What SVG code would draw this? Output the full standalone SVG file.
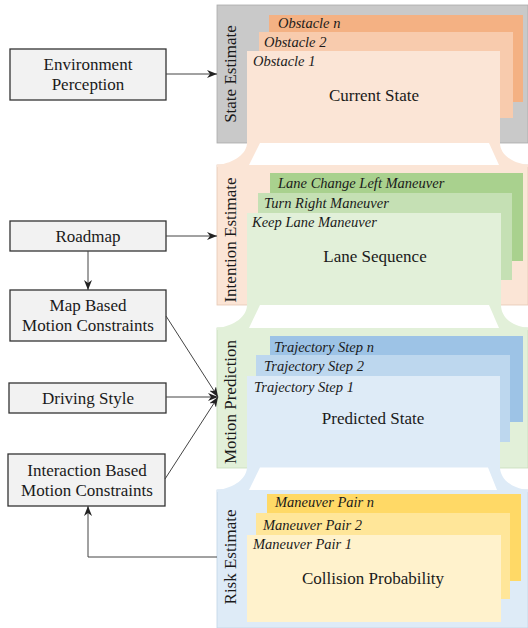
<svg xmlns="http://www.w3.org/2000/svg" width="528" height="628" viewBox="0 0 528 628" font-family="'Liberation Serif', 'Times New Roman', 'DejaVu Serif', serif">
<style>
text{fill:#1a1a1a}
.lbl{font-size:17px;text-anchor:middle}
.it{font-size:14.5px;font-style:italic}
.box{fill:#f2f2f2;stroke:#333;stroke-width:1.3}
.wire{fill:none;stroke:#444;stroke-width:1}
.gap{fill:#fff}
</style>
<defs>
<marker id="ah" viewBox="0 0 10 8" refX="10" refY="4" markerWidth="10" markerHeight="8" markerUnits="userSpaceOnUse" orient="auto">
<path d="M0,0 L10,4 L0,8 L3,4 Z" fill="#222"/>
</marker>
</defs>

<g id="state-estimate">
<rect x="217" y="5" width="311" height="138" fill="#c9c9c9" stroke="#aaa" stroke-width="0.8"/>
<rect x="269" y="15" width="254" height="87" fill="#f4b183"/>
<rect x="259" y="32" width="254" height="86" fill="#f8cbad"/>
<rect x="247" y="51" width="253" height="87" fill="#fbe5d6"/>
<text class="it" x="278" y="28">Obstacle n</text>
<text class="it" x="264" y="47">Obstacle 2</text>
<text class="it" x="253" y="66">Obstacle 1</text>
<text class="lbl" x="374" y="101">Current State</text>
<text class="lbl" transform="translate(236,74) rotate(-90)">State Estimate</text>
</g>

<g id="intention-estimate">
<rect x="217" y="165" width="311" height="140" fill="#fbe5d6" stroke="#e6c8b4" stroke-width="0.8"/>
<path d="M247,137 L247,143 C247,153 235,163 217,165 L217,167 L528,167 L528,165 C510,163 500,153 500,143 L500,137 Z" fill="#fbe5d6"/>
<path class="gap" d="M260,143 L489,143 L499,165 L249,165 Z"/>
<rect x="270" y="173" width="253" height="88" fill="#a9d18e"/>
<rect x="258" y="193" width="254" height="87" fill="#c5e0b4"/>
<rect x="247" y="213" width="254" height="87" fill="#e2f0d9"/>
<text class="it" x="278" y="188">Lane Change Left Maneuver</text>
<text class="it" x="264" y="208">Turn Right Maneuver</text>
<text class="it" x="252" y="227">Keep Lane Maneuver</text>
<text class="lbl" x="375" y="262">Lane Sequence</text>
<text class="lbl" transform="translate(236,240) rotate(-90)">Intention Estimate</text>
</g>

<g id="motion-prediction">
<rect x="217" y="328" width="311" height="140" fill="#e2f0d9" stroke="#c7dcbb" stroke-width="0.8"/>
<path d="M247,299 L247,305 C247,316 235,326 217,328 L217,330 L528,330 L528,328 C510,326 501,316 501,305 L501,299 Z" fill="#e2f0d9"/>
<path class="gap" d="M260,305 L489,305 L499,328 L249,328 Z"/>
<rect x="270" y="336" width="253" height="86" fill="#9dc3e6"/>
<rect x="256" y="355" width="254" height="87" fill="#bdd7ee"/>
<rect x="247" y="376" width="253" height="89" fill="#deebf7"/>
<text class="it" x="274" y="352">Trajectory Step n</text>
<text class="it" x="264" y="371">Trajectory Step 2</text>
<text class="it" x="254" y="392">Trajectory Step 1</text>
<text class="lbl" x="373" y="424">Predicted State</text>
<text class="lbl" transform="translate(236,402) rotate(-90)">Motion Prediction</text>
</g>

<g id="risk-estimate">
<rect x="217" y="490" width="311" height="138" fill="#deebf7" stroke="#c0d4e6" stroke-width="0.8"/>
<path d="M247,464 L247,467 C247,478 235,488 217,490 L217,492 L528,492 L528,490 C510,488 500,478 500,467 L500,464 Z" fill="#deebf7"/>
<path class="gap" d="M260,467.5 L488,467.5 L497,490 L249,490 Z"/>
<rect x="267" y="494" width="254" height="87" fill="#ffd966"/>
<rect x="256" y="513" width="254" height="86" fill="#ffe699"/>
<rect x="247" y="535" width="254" height="87" fill="#fff2cc"/>
<text class="it" x="275" y="507">Maneuver Pair n</text>
<text class="it" x="263" y="530">Maneuver Pair 2</text>
<text class="it" x="253" y="549">Maneuver Pair 1</text>
<text class="lbl" x="373" y="584">Collision Probability</text>
<text class="lbl" transform="translate(236,557) rotate(-90)">Risk Estimate</text>
</g>

<g id="environment-perception">
<rect class="box" x="10" y="49" width="156" height="51"/>
<text class="lbl" x="88" y="70">Environment</text>
<text class="lbl" x="88" y="90">Perception</text>
</g>
<g id="roadmap">
<rect class="box" x="10" y="221" width="156" height="30"/>
<text class="lbl" x="88" y="242">Roadmap</text>
</g>
<g id="map-based">
<rect class="box" x="10" y="290" width="156" height="51"/>
<text class="lbl" x="88" y="311">Map Based</text>
<text class="lbl" x="88" y="331">Motion Constraints</text>
</g>
<g id="driving-style">
<rect class="box" x="9" y="383" width="157" height="30"/>
<text class="lbl" x="88" y="404">Driving Style</text>
</g>
<g id="interaction-based">
<rect class="box" x="8" y="454" width="157" height="52"/>
<text class="lbl" x="87" y="476">Interaction Based</text>
<text class="lbl" x="87" y="496">Motion Constraints</text>
</g>

<g id="connectors">
<path class="wire" d="M166,74 L217,74" marker-end="url(#ah)"/>
<path class="wire" d="M166,236 L217,236" marker-end="url(#ah)"/>
<path class="wire" d="M88,251 L88,290" marker-end="url(#ah)"/>
<path class="wire" d="M166,316 L218,397" marker-end="url(#ah)"/>
<path class="wire" d="M166,397 L218,397" marker-end="url(#ah)"/>
<path class="wire" d="M165,479 L218,397" marker-end="url(#ah)"/>
<path class="wire" d="M217,557 L88,557 L88,506" marker-end="url(#ah)"/>
</g>
</svg>
